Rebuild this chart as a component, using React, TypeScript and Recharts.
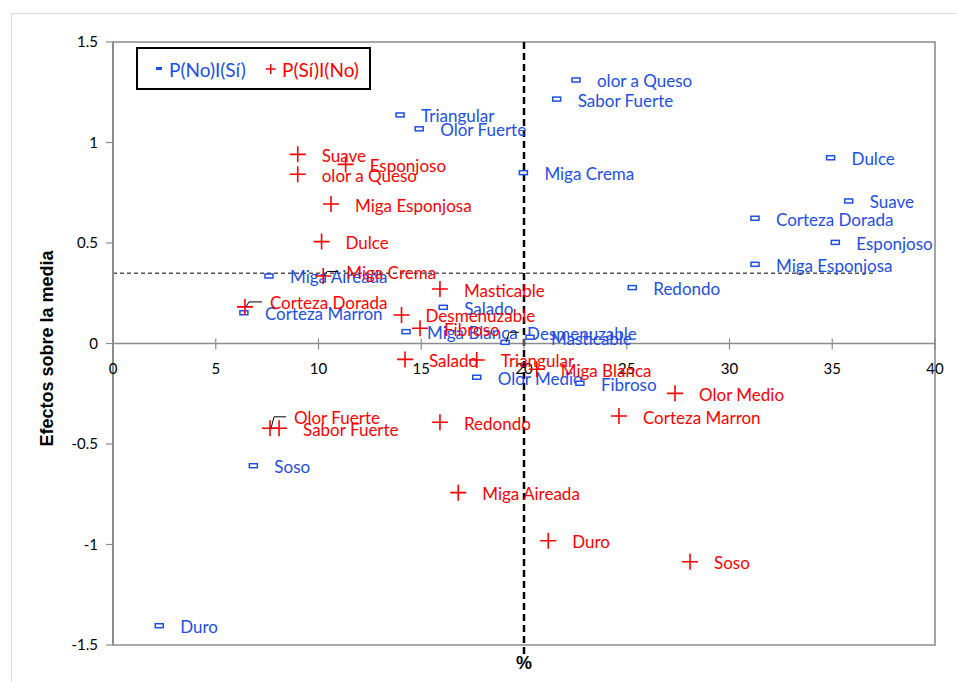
import React from 'react';
import {
  ScatterChart,
  Scatter,
  XAxis,
  YAxis,
  ReferenceLine,
  ReferenceArea,
  ReferenceDot,
} from 'recharts';

// ---------- data ----------
const blueNames = [
  'olor a Queso', 'Sabor Fuerte', 'Triangular', 'Olor Fuerte', 'Miga Crema', 'Dulce', 'Suave',
  'Corteza Dorada', 'Esponjoso', 'Miga Esponjosa', 'Redondo', 'Miga Aireada', 'Corteza Marron',
  'Salado', 'Miga Blanca', 'Desmenuzable', 'Masticable', 'Olor Medio', 'Fibroso', 'Soso', 'Duro',
];
const blueX = [22.53, 21.59, 13.97, 14.9, 19.97, 34.92, 35.8, 31.24, 35.15, 31.24, 25.27, 7.59, 6.37, 16.07, 14.26, 19.08, 20.29, 17.7, 22.72, 6.83, 2.25];
const blueY = [1.311, 1.216, 1.137, 1.068, 0.85, 0.924, 0.709, 0.623, 0.503, 0.394, 0.278, 0.336, 0.153, 0.18, 0.059, 0.006, 0.031, -0.168, -0.198, -0.608, -1.404];

const redNames = [
  'Suave', 'Esponjoso', 'olor a Queso', 'Miga Esponjosa', 'Dulce', 'Miga Crema', 'Corteza Dorada',
  'Masticable', 'Desmenuzable', 'Fibroso', 'Salado', 'Triangular', 'Miga Blanca', 'Olor Medio',
  'Corteza Marron', 'Olor Fuerte', 'Sabor Fuerte', 'Redondo', 'Miga Aireada', 'Duro', 'Soso',
];
const redX = [8.99, 11.32, 8.99, 10.61, 10.15, 10.23, 6.42, 15.91, 14.04, 14.94, 14.21, 17.7, 20.62, 27.35, 24.62, 7.64, 8.08, 15.91, 16.8, 21.18, 28.08];
const redY = [0.941, 0.891, 0.842, 0.694, 0.507, 0.336, 0.182, 0.271, 0.142, 0.076, -0.079, -0.082, -0.128, -0.248, -0.361, -0.422, -0.422, -0.392, -0.742, -0.981, -1.086];

const xTicks = [0, 5, 10, 15, 20, 25, 30, 35, 40];
const yTicks = [-1.5, -1, -0.5, 0, 0.5, 1, 1.5];
const meanEffect = 0.35;
const meanEffectEnd = 37;
const midPercent = 20;
const legendLabels = ['P(No)I(Sí)', 'P(Sí)I(No)'];
const xTitle = '%';
const yTitle = 'Efectos sobre la media';

// ---------- styles ----------
const BLUE = '#1c4fe8';
const RED = '#ff0000';
const AXIS = '#8c8c8c';
const LABEL_FONT = 'Lato, "Open Sans", sans-serif';

// label placement tweaks (dx, dy in px) for labels that were moved with a leader line
const labelNudges: Record<string, [number, number]> = {
  'red:Miga Crema': [23, -3.5],
  'red:Corteza Dorada': [25, -4],
  'red:Olor Fuerte': [24, -10.5],
  'blue:Desmenuzable': [22, -9],
};

const blueData = blueNames.map((name, i) => ({ name, x: blueX[i], y: blueY[i] }));
const redData = redNames.map((name, i) => ({ name, x: redX[i], y: redY[i] }));

const makeShape = (series: 'blue' | 'red') => (props: any) => {
  const { cx, cy, payload } = props;
  if (cx == null || cy == null) return <g />;
  const color = series === 'blue' ? BLUE : RED;
  const nudge = labelNudges[`${series}:${payload.name}`];
  const dx = nudge ? nudge[0] : series === 'blue' ? 21 : 24;
  const dy = nudge ? nudge[1] : 1;
  return (
    <g>
      {series === 'blue' ? (
        <rect x={cx - 4} y={cy - 2} width={8} height={4} fill="#fff" stroke={color} strokeWidth={1.5} />
      ) : (
        <path d={`M${cx - 8},${cy}H${cx + 8}M${cx},${cy - 8}V${cy + 8}`} stroke={color} strokeWidth={1.6} fill="none" />
      )}
      {nudge && (
        <path
          d={`M${cx + 1},${cy}L${cx + 4},${cy + dy - 1}H${cx + dx - 8}`}
          stroke="#000"
          strokeWidth={1}
          fill="none"
        />
      )}
      <text
        x={cx + dx}
        y={cy + dy}
        dominantBaseline="central"
        fill={color}
        fontSize={17}
        fontFamily={LABEL_FONT}
      >
        {payload.name}
      </text>
    </g>
  );
};

const xTickShape = (value: number) => (props: any) => {
  const { cx, cy } = props;
  return (
    <g>
      <line x1={cx} y1={cy - 5} x2={cx} y2={cy + 6} stroke={AXIS} strokeWidth={1.2} />
      <text
        x={cx}
        y={cy + 24}
        textAnchor="middle"
        dominantBaseline="central"
        fontSize={15}
        fontFamily={LABEL_FONT}
        fill="#000"
      >
        {value}
      </text>
    </g>
  );
};

const renderYTitle = (props: any) => {
  const vb = props.viewBox || { x: 13, y: 42, width: 100, height: 603 };
  const x = vb.x + 34;
  const y = vb.y + vb.height / 2 + 5;
  return (
    <text
      x={x}
      y={y}
      transform={`rotate(-90 ${x} ${y})`}
      textAnchor="middle"
      dominantBaseline="central"
      fontSize={18}
      fontWeight="bold"
      fontFamily='"Liberation Sans", Arial, sans-serif'
      fill="#000"
    >
      {yTitle}
    </text>
  );
};

const renderXTitle = (props: any) => {
  const vb = props.viewBox || { x: 113, y: 645, width: 822, height: 37 };
  return (
    <text
      x={vb.x + vb.width / 2}
      y={vb.y + 18}
      textAnchor="middle"
      dominantBaseline="central"
      fontSize={18}
      fontWeight="bold"
      fontFamily='"Liberation Sans", Arial, sans-serif'
      fill="#000"
    >
      {xTitle}
    </text>
  );
};

export default function App() {
  return (
    <div
      style={{
        position: 'absolute',
        left: 0,
        top: 0,
        width: 957,
        height: 682,
        overflow: 'hidden',
        background: '#fff',
      }}
    >
      <div
        style={{
          position: 'absolute',
          left: 11,
          top: 13,
          width: 1000,
          height: 800,
          border: '1px solid #d9d9d9',
        }}
      />
      <div style={{ position: 'absolute', left: 0, top: 0 }}>
        <ScatterChart width={957} height={682} margin={{ top: 42, right: 22, left: 13, bottom: 0 }}>
          <XAxis
            dataKey="x"
            type="number"
            domain={[0, 40]}
            ticks={xTicks}
            tick={false}
            tickLine={false}
            axisLine={false}
            height={37}
            label={renderXTitle}
          />
          <YAxis
            dataKey="y"
            type="number"
            domain={[-1.5, 1.5]}
            ticks={yTicks}
            width={100}
            axisLine={{ stroke: AXIS, strokeWidth: 2 }}
            tickLine={{ stroke: AXIS, strokeWidth: 1.2 }}
            tickSize={7}
            tickMargin={8}
            tick={{ fill: '#000', fontSize: 15, fontFamily: LABEL_FONT }}
            label={renderYTitle}
          />
          <ReferenceArea
            x1={0}
            x2={40}
            y1={-1.5}
            y2={1.5}
            fill="none"
            fillOpacity={0}
            stroke={AXIS}
            strokeWidth={1.6}
            ifOverflow="visible"
          />
          <ReferenceLine y={0} stroke={AXIS} strokeWidth={1.4} />
          {xTicks.map((v) => (
            <ReferenceDot
              key={`xt${v}`}
              x={v}
              y={0}
              r={0}
              ifOverflow="visible"
              shape={xTickShape(v)}
            />
          ))}
          <ReferenceLine
            segment={[
              { x: 0, y: meanEffect },
              { x: meanEffectEnd, y: meanEffect },
            ]}
            stroke="#000"
            strokeWidth={1}
            strokeDasharray="4 3"
            ifOverflow="visible"
          />
          <Scatter
            name={legendLabels[0]}
            data={blueData}
            shape={makeShape('blue')}
            isAnimationActive={false}
          />
          <Scatter
            name={legendLabels[1]}
            data={redData}
            shape={makeShape('red')}
            isAnimationActive={false}
          />
          <ReferenceLine
            segment={[
              { x: midPercent, y: 1.5 },
              { x: midPercent, y: -1.56 },
            ]}
            stroke="#000"
            strokeWidth={2.5}
            strokeDasharray="7 4"
            ifOverflow="visible"
          />
        </ScatterChart>
      </div>
      <svg
        style={{ position: 'absolute', left: 136, top: 47 }}
        width={235}
        height={43}
      >
        <rect x={1} y={1} width={233} height={41} fill="#fff" stroke="#000" strokeWidth={2} />
        <rect x={20} y={20} width={6} height={3} fill={BLUE} />
        <text x={33} y={22} dominantBaseline="central" fill={BLUE} fontSize={19} fontFamily={LABEL_FONT}>
          {legendLabels[0]}
        </text>
        <path d="M129.7,22H139.7M134.7,17V27" stroke={RED} strokeWidth={1.4} />
        <text x={146} y={22} dominantBaseline="central" fill={RED} fontSize={19} fontFamily={LABEL_FONT}>
          {legendLabels[1]}
        </text>
      </svg>
    </div>
  );
}
